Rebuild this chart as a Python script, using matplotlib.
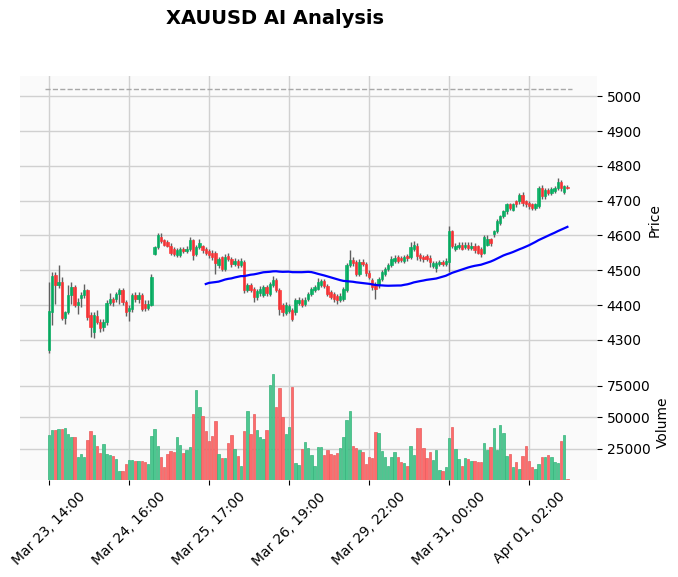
import matplotlib
matplotlib.use("Agg")
import matplotlib.pyplot as plt
import numpy as np
import pandas as pd

# hourly XAUUSD bars
opens = [
    4271, 4380, 4486, 4457, 4466, 4363, 4380, 4429, 4451, 4400,
    4420, 4429, 4443, 4371, 4323, 4369, 4351, 4337, 4351, 4406,
    4417, 4417, 4431, 4443, 4409, 4383, 4389, 4429, 4417, 4429,
    4403, 4392, 4400, 4546, 4566, 4597, 4586, 4580, 4571, 4560,
    4543, 4543, 4560, 4554, 4560, 4586, 4546, 4566, 4569, 4560,
    4554, 4551, 4549, 4514, 4537, 4503, 4540, 4531, 4517, 4526,
    4514, 4523, 4443, 4457, 4446, 4423, 4434, 4429, 4451, 4431,
    4457, 4471, 4443, 4400, 4377, 4383, 4386, 4380, 4406, 4414,
    4403, 4417, 4431, 4443, 4446, 4457, 4469, 4454, 4437, 4431,
    4426, 4414, 4417, 4443, 4514, 4529, 4523, 4489, 4523, 4517,
    4491, 4471, 4460, 4457, 4474, 4489, 4503, 4514, 4526, 4537,
    4534, 4526, 4540, 4537, 4560, 4569, 4543, 4537, 4540, 4534,
    4511, 4506, 4517, 4523, 4517, 4523, 4612, 4560, 4566, 4574,
    4566, 4574, 4563, 4571, 4569, 4560, 4551, 4574, 4589, 4603,
    4612, 4636, 4655, 4669, 4689, 4674, 4698, 4698, 4717, 4698,
    4694, 4689, 4680, 4684, 4737, 4712, 4731, 4723, 4729, 4737,
    4755, 4726, 4740,
]
highs = [
    4466, 4494, 4494, 4514, 4480, 4383, 4457, 4466, 4457, 4420,
    4437, 4460, 4446, 4380, 4380, 4386, 4360, 4360, 4414, 4434,
    4423, 4437, 4449, 4449, 4414, 4400, 4434, 4437, 4437, 4434,
    4414, 4414, 4489, 4571, 4606, 4606, 4591, 4586, 4577, 4566,
    4563, 4566, 4566, 4571, 4597, 4591, 4574, 4589, 4574, 4566,
    4560, 4557, 4554, 4537, 4540, 4546, 4549, 4537, 4534, 4531,
    4534, 4529, 4463, 4463, 4451, 4446, 4454, 4457, 4457, 4466,
    4483, 4477, 4449, 4406, 4409, 4403, 4391, 4420, 4423, 4420,
    4423, 4437, 4451, 4457, 4477, 4474, 4474, 4460, 4443, 4437,
    4431, 4434, 4451, 4520, 4557, 4537, 4529, 4531, 4531, 4523,
    4500, 4477, 4466, 4480, 4500, 4509, 4520, 4540, 4543, 4543,
    4540, 4543, 4546, 4580, 4583, 4577, 4549, 4543, 4546, 4543,
    4526, 4526, 4529, 4529, 4534, 4626, 4617, 4577, 4580, 4580,
    4580, 4580, 4580, 4577, 4574, 4566, 4600, 4600, 4594, 4617,
    4646, 4660, 4674, 4694, 4694, 4694, 4703, 4723, 4726, 4703,
    4700, 4694, 4694, 4743, 4746, 4737, 4737, 4740, 4743, 4766,
    4760, 4746, 4746,
]
lows = [
    4262, 4343, 4403, 4450, 4357, 4346, 4374, 4403, 4394, 4374,
    4394, 4420, 4357, 4309, 4306, 4346, 4323, 4326, 4343, 4400,
    4397, 4409, 4403, 4400, 4369, 4354, 4380, 4409, 4406, 4383,
    4383, 4386, 4397, 4543, 4560, 4577, 4569, 4566, 4543, 4540,
    4537, 4537, 4549, 4549, 4554, 4529, 4540, 4560, 4551, 4543,
    4534, 4529, 4489, 4506, 4497, 4497, 4526, 4509, 4511, 4506,
    4509, 4434, 4437, 4437, 4409, 4414, 4426, 4423, 4426, 4426,
    4451, 4437, 4371, 4369, 4371, 4377, 4354, 4371, 4400, 4394,
    4397, 4411, 4426, 4437, 4443, 4451, 4449, 4426, 4417, 4409,
    4403, 4409, 4411, 4437, 4509, 4511, 4483, 4483, 4511, 4483,
    4474, 4443, 4417, 4449, 4469, 4483, 4497, 4509, 4520, 4520,
    4523, 4520, 4526, 4531, 4554, 4529, 4526, 4523, 4526, 4509,
    4506, 4494, 4511, 4511, 4511, 4494, 4563, 4554, 4560, 4557,
    4560, 4557, 4557, 4551, 4546, 4537, 4546, 4569, 4569, 4597,
    4606, 4629, 4649, 4663, 4674, 4669, 4683, 4691, 4686, 4683,
    4677, 4674, 4674, 4680, 4706, 4706, 4717, 4717, 4723, 4731,
    4729, 4720, 4734,
]
closes = [
    4383, 4483, 4457, 4466, 4363, 4380, 4429, 4451, 4400, 4409,
    4429, 4443, 4366, 4337, 4371, 4351, 4334, 4351, 4406, 4417,
    4409, 4431, 4443, 4409, 4380, 4392, 4429, 4417, 4429, 4389,
    4392, 4403, 4480, 4566, 4600, 4583, 4574, 4571, 4551, 4546,
    4557, 4560, 4554, 4560, 4586, 4543, 4566, 4577, 4557, 4551,
    4543, 4537, 4520, 4531, 4503, 4537, 4531, 4517, 4526, 4514,
    4526, 4443, 4457, 4443, 4423, 4440, 4446, 4451, 4434, 4460,
    4471, 4443, 4389, 4380, 4400, 4397, 4360, 4414, 4414, 4400,
    4414, 4431, 4446, 4451, 4466, 4469, 4454, 4431, 4423, 4417,
    4414, 4426, 4446, 4514, 4529, 4520, 4489, 4523, 4517, 4491,
    4480, 4451, 4446, 4474, 4494, 4503, 4514, 4531, 4534, 4526,
    4529, 4537, 4534, 4566, 4574, 4540, 4534, 4531, 4531, 4523,
    4520, 4520, 4523, 4517, 4526, 4614, 4569, 4569, 4574, 4560,
    4574, 4563, 4571, 4557, 4551, 4546, 4597, 4589, 4577, 4612,
    4641, 4655, 4669, 4689, 4680, 4689, 4689, 4717, 4693, 4689,
    4684, 4680, 4689, 4737, 4712, 4731, 4723, 4734, 4737, 4755,
    4737, 4741, 4737,
]
volumes = [
    36100, 40100, 40100, 40900, 40900, 41700, 36900, 34500, 34500, 18100,
    21000, 18700, 32100, 39300, 36100, 27400, 21800, 29000, 21000, 20200,
    19400, 17100, 7500, 7500, 13100, 16300, 16300, 15500, 15500, 15500,
    14700, 13100, 35300, 40900, 27400, 18700, 10700, 21000, 23400, 22600,
    34500, 28200, 21800, 24200, 26000, 52800, 71800, 58300, 51200, 39300,
    31300, 35300, 47200, 21000, 17900, 17900, 29800, 36100, 25000, 19400,
    11500, 39300, 55200, 36900, 52800, 40100, 34500, 32900, 40100, 75800,
    84500, 58300, 73400, 50400, 36900, 42500, 74200, 13900, 12300, 25000,
    30600, 25800, 20200, 11500, 26600, 26600, 20200, 24200, 21000, 20200,
    21800, 25800, 34500, 47600, 55200, 27400, 25800, 24200, 22000, 13100,
    18700, 17900, 38500, 37700, 23000, 18700, 11500, 18000, 22000, 18700,
    14700, 13900, 11500, 27400, 20200, 41700, 41700, 25800, 17900, 22000,
    16300, 24200, 8300, 7500, 10700, 33700, 42500, 25000, 17100, 11500,
    17900, 17100, 15500, 15500, 14700, 14700, 29800, 24200, 26600, 41300,
    24200, 44000, 37700, 19400, 21000, 10700, 14700, 9100, 19400, 27400,
    15500, 10700, 9100, 13100, 18700, 18700, 20200, 18000, 14700, 13900,
    31300, 36100, 500,
]
tick_pos = [0, 25, 50, 75, 100, 125, 150]
tick_labels = ["Mar 23, 14:00", "Mar 24, 16:00", "Mar 25, 17:00", "Mar 26, 19:00",
               "Mar 29, 22:00", "Mar 31, 00:00", "Apr 01, 02:00"]
hline_level = 5020
mav_window = 50

df = pd.DataFrame({"Open": opens, "High": highs, "Low": lows,
                   "Close": closes, "Volume": volumes})
x = np.arange(len(df))
up = df["Close"] >= df["Open"]
mav = df["Close"].rolling(mav_window).mean()

W, H = 678, 577
fig = plt.figure(figsize=(W / 100, H / 100), dpi=100)
ax = fig.add_axes([20 / W, (H - 365) / H, 577 / W, 289 / H])
axv = fig.add_axes([20 / W, (H - 480) / H, 577 / W, 115 / H], sharex=ax)

for a in (ax, axv):
    a.set_facecolor("#fafafa")
    a.grid(True, color="#d0d0d0", linestyle="-", linewidth=1)
    a.set_axisbelow(True)
    for s in a.spines.values():
        s.set_visible(False)
    a.yaxis.tick_right()
    a.yaxis.set_label_position("right")
    a.tick_params(axis="both", colors="black", labelsize=10, length=3.5)

# candles
body_col = np.where(up, "#00b060", "#fe3032")
ax.vlines(x, df["Low"], df["High"], color="#606060", linewidth=1, zorder=2)
bottoms = np.minimum(df["Open"], df["Close"])
heights = np.maximum((df["Close"] - df["Open"]).abs(), 0.8)
ax.bar(x, heights, bottom=bottoms, width=0.7, color=body_col, edgecolor=body_col,
       linewidth=0.5, alpha=0.9, zorder=3)
ax.plot(x, mav, color="blue", linewidth=1.6, zorder=4)
ax.hlines(hline_level, x[0] - 1.3, x[-1] + 1.3, colors="#a8a8a8",
          linestyles="--", linewidth=1, zorder=1)

ax.set_ylim(4228, 5058)
ax.set_yticks([4300, 4400, 4500, 4600, 4700, 4800, 4900, 5000])
ax.set_ylabel("Price", fontsize=10)
plt.setp(ax.get_xticklabels(), visible=False)
ax.tick_params(axis="x", length=0)

# volume
vol_face = np.where(up, "#4dc790", "#fd6b6c")
vol_edge = np.where(up, "#37b37c", "#e85c5d")
axv.bar(x, df["Volume"], width=0.8, color=vol_face, edgecolor=vol_edge,
        linewidth=0.5, zorder=3)
axv.set_ylim(0, 91700)
axv.set_yticks([25000, 50000, 75000])
axv.set_ylabel("Volume", fontsize=10)
axv.set_xlim(-9.06, 171.25)
axv.set_xticks(tick_pos)
axv.set_xticklabels(tick_labels, rotation=45, ha="center")

fig.text(275 / W, 1 - 19 / H, "XAUUSD AI Analysis", ha="center", va="center",
         fontsize=14, fontweight="bold")

fig.savefig("out.png", dpi=100)
